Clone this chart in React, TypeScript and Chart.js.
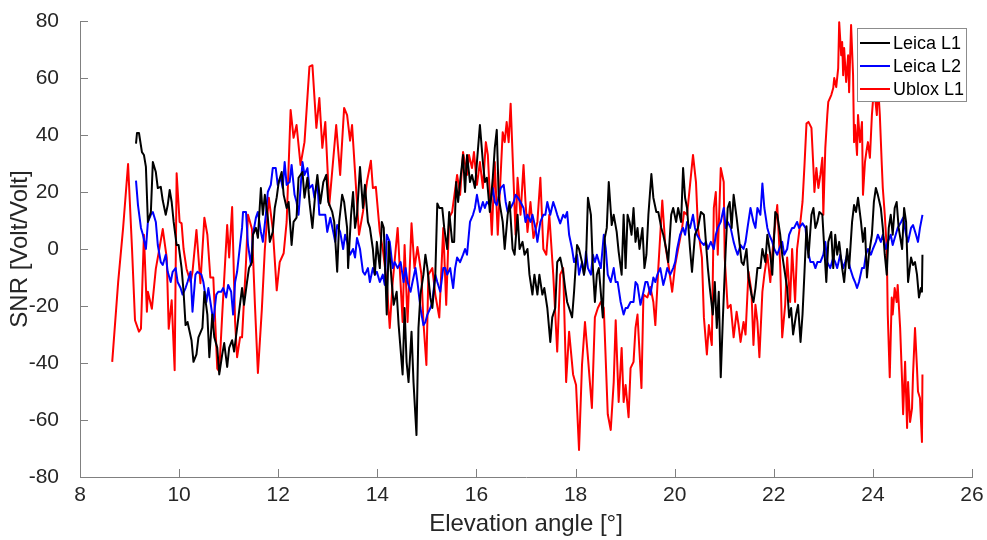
import React, { useEffect, useRef } from "react";
import { Chart, registerables } from "chart.js";

Chart.register(...registerables);

// [elevation angle (deg), SNR (Volt/Volt)]
const leicaL1: [number, number][] = [[9.13,37],[9.15,40.7],[9.19,40.7],[9.25,34],[9.29,33],[9.33,28.8],[9.37,9.5],[9.43,13],[9.47,30.5],[9.53,27],[9.57,21.4],[9.63,21.8],[9.67,17],[9.73,12],[9.77,15.4],[9.81,20.7],[9.85,16.5],[9.89,9.5],[9.95,1.4],[9.99,1.4],[10.05,-6.7],[10.09,-15],[10.13,-26.7],[10.17,-25.6],[10.25,-32],[10.29,-39.6],[10.35,-37],[10.39,-31],[10.47,-27.7],[10.51,-15],[10.57,-23],[10.61,-38],[10.67,-23],[10.71,-31],[10.77,-34.7],[10.81,-44],[10.87,-37],[10.91,-33],[10.97,-41.4],[11.01,-34.7],[11.07,-32],[11.11,-36],[11.17,-27.7],[11.21,-22],[11.27,-13.7],[11.31,-19.6],[11.37,-11.6],[11.41,-6.7],[11.47,-4.6],[11.49,5],[11.55,7.4],[11.59,3.9],[11.65,21.4],[11.69,12],[11.73,19],[11.79,11],[11.83,2.5],[11.89,6],[11.93,14.4],[11.97,18.2],[12.01,23.5],[12.07,27],[12.11,19],[12.17,14.4],[12.21,16.5],[12.27,1.4],[12.31,9.5],[12.37,11],[12.41,25],[12.49,27],[12.53,18],[12.59,25],[12.63,16.5],[12.69,7.4],[12.75,20],[12.79,26],[12.85,16],[12.91,23.5],[12.97,26],[13.01,16.5],[13.09,13],[13.13,9.5],[13.19,-8],[13.23,9.5],[13.29,19],[13.33,16.5],[13.39,7.4],[13.41,-6.7],[13.47,12],[13.51,20],[13.55,7.4],[13.59,12],[13.65,28.8],[13.71,14.4],[13.75,22.5],[13.81,9.5],[13.85,7.4],[13.91,0],[13.95,-9],[13.99,2.5],[14.05,-6.7],[14.09,9.5],[14.13,7.4],[14.19,-23],[14.23,2.5],[14.29,-11.6],[14.33,-19.6],[14.39,-15],[14.43,-26.7],[14.51,-44],[14.55,-20.7],[14.59,-39.6],[14.63,-46.7],[14.69,-29],[14.73,-46.7],[14.79,-65.3],[14.83,-27.7],[14.87,-16],[14.93,-9],[14.97,-2],[15.01,-6.7],[15.07,-17],[15.11,-20.7],[15.17,-9],[15.21,16],[15.25,14.4],[15.31,14.4],[15.35,7.4],[15.41,0],[15.45,13],[15.51,2.5],[15.55,2.5],[15.59,23.5],[15.63,16.5],[15.67,23.5],[15.73,33],[15.77,20],[15.81,33],[15.87,23.5],[15.91,26],[15.97,21.4],[16.01,30.5],[16.07,43.5],[16.13,30.5],[16.17,23.5],[16.21,25],[16.27,13],[16.33,25],[16.37,35.5],[16.41,41.8],[16.45,18],[16.53,9.5],[16.57,0],[16.63,12],[16.67,16.5],[16.73,0],[16.77,-2],[16.83,12],[16.87,0],[16.93,2.5],[16.97,-2],[17.03,0],[17.07,-9],[17.13,-16],[17.17,-9],[17.23,-16],[17.27,-9],[17.33,-16],[17.37,-13.7],[17.43,-20.7],[17.49,-32.6],[17.53,-24],[17.59,-20.7],[17.63,-4.6],[17.69,-3],[17.75,-8],[17.79,-13.7],[17.83,-18.6],[17.87,-20.7],[17.93,-24],[17.97,-15],[18.03,1.4],[18.07,0],[18.13,-4.6],[18.17,-9],[18.21,-4.6],[18.25,18],[18.31,12],[18.35,-6.7],[18.39,-18.6],[18.43,-9],[18.47,-6.7],[18.55,-24],[18.59,3.9],[18.63,7.4],[18.67,23.5],[18.73,8.4],[18.77,12],[18.83,6],[18.87,-1],[18.93,-9],[18.97,12],[19.01,-6.7],[19.05,12],[19.09,9.5],[19.13,5],[19.17,14.4],[19.21,2.5],[19.25,7.4],[19.29,0],[19.35,7.4],[19.39,-6.7],[19.43,-2],[19.47,12],[19.53,26.3],[19.57,18],[19.63,13],[19.67,13],[19.73,7.4],[19.77,5],[19.83,0],[19.87,-4.6],[19.93,12],[19.97,14.4],[20.03,9.5],[20.07,14.4],[20.13,9.5],[20.17,28.4],[20.21,18],[20.25,14.4],[20.31,0],[20.35,-8],[20.41,5],[20.47,7.4],[20.53,13],[20.59,12],[20.63,2.5],[20.67,-6.7],[20.71,-13.7],[20.77,-23],[20.81,-11.6],[20.85,-27.7],[20.89,-15],[20.93,-45],[20.97,-25.6],[21.03,0],[21.07,14.4],[21.11,16.5],[21.15,7.4],[21.19,19],[21.25,11],[21.29,5],[21.35,-4.6],[21.39,-5.6],[21.45,0],[21.49,-10],[21.55,-16],[21.59,-18.6],[21.63,-13.7],[21.67,-6.7],[21.73,-6.7],[21.77,0],[21.83,-4.6],[21.87,5],[21.93,-2],[21.97,-9],[22.03,13],[22.07,12],[22.13,5],[22.17,-2],[22.21,-6.7],[22.27,-13.7],[22.31,-24],[22.35,-20.7],[22.39,-30],[22.45,-23],[22.49,-19.6],[22.54,-32.6],[22.58,-23],[22.62,-8],[22.66,8],[22.70,-3],[22.76,12],[22.80,14.4],[22.84,7.4],[22.88,9.5],[22.92,13],[22.98,12],[23.02,0],[23.06,-11.6],[23.10,2.5],[23.16,6],[23.20,-6.7],[23.24,5],[23.28,-2],[23.32,2.5],[23.38,-6.7],[23.42,-11.6],[23.48,0],[23.52,-6.7],[23.58,9.5],[23.62,15.4],[23.66,13],[23.70,18],[23.76,9.5],[23.80,2.5],[23.84,7.4],[23.88,-10],[23.92,-2],[23.98,5],[24.02,16.5],[24.06,21.4],[24.10,19],[24.16,14.4],[24.20,7.4],[24.24,-2],[24.28,-9],[24.32,7.4],[24.36,12],[24.40,5],[24.44,14.4],[24.48,16.5],[24.52,7.4],[24.59,0],[24.63,14.4],[24.67,9.5],[24.71,-11.6],[24.77,-3],[24.81,-5.6],[24.85,-4.6],[24.89,-9],[24.93,-17],[24.97,-13.7],[24.99,-15],[25.0,-2]];

const leicaL2: [number, number][] = [[9.13,24],[9.17,15.4],[9.23,7.4],[9.27,5],[9.33,0],[9.37,9.5],[9.43,12],[9.47,13],[9.53,9.5],[9.57,1.4],[9.63,-4.6],[9.67,-5.6],[9.73,-2],[9.77,-8],[9.83,-11.6],[9.87,-8],[9.93,-6.7],[9.97,-11.6],[10.03,-13.7],[10.07,-16],[10.13,-13.7],[10.17,-11.6],[10.23,-8],[10.27,-22],[10.33,-9],[10.37,-8],[10.45,-9],[10.49,-11.6],[10.55,-18.6],[10.59,-13.7],[10.65,-20.7],[10.69,-25.6],[10.75,-16],[10.79,-15],[10.85,-15],[10.89,-13.7],[10.95,-17],[10.99,-12.6],[11.05,-15],[11.09,-23],[11.13,-11.6],[11.17,-8],[11.23,1.4],[11.27,7.4],[11.29,13],[11.35,13],[11.39,1.4],[11.45,-5.6],[11.49,5],[11.55,11],[11.59,13],[11.65,6],[11.69,2.5],[11.75,12],[11.79,20],[11.85,22.5],[11.89,28.4],[11.95,28.4],[11.99,22.5],[12.05,25],[12.09,21.4],[12.13,30.5],[12.17,22.5],[12.23,23.5],[12.27,29.5],[12.33,19],[12.37,16.5],[12.41,12],[12.49,30.5],[12.53,26],[12.59,28.4],[12.63,21.4],[12.69,22.5],[12.73,18],[12.79,23.5],[12.83,12],[12.89,12],[12.95,12],[12.99,6],[13.05,11],[13.11,6],[13.15,2.5],[13.19,8.4],[13.25,6],[13.31,0],[13.35,5],[13.39,2.5],[13.45,-2],[13.51,0],[13.55,-3],[13.59,3.9],[13.65,0],[13.71,-8],[13.75,-9],[13.81,-6.7],[13.85,-11.6],[13.91,-6.7],[13.95,-9],[13.99,-8],[14.05,-11.6],[14.11,-9],[14.15,-12.6],[14.19,5],[14.25,2.5],[14.31,-6.7],[14.35,-4.6],[14.41,-6.7],[14.47,-4.6],[14.53,-11.6],[14.57,-6.7],[14.61,-11.6],[14.67,-15],[14.71,-11.6],[14.77,-6.7],[14.81,-11.6],[14.87,-20.7],[14.93,-26.7],[14.97,-25.6],[15.01,-23],[15.07,-20.7],[15.11,-18.6],[15.17,-9],[15.21,-11.6],[15.27,-15],[15.33,-6.7],[15.37,-6.7],[15.41,-9],[15.47,-6.7],[15.53,-13.7],[15.57,-6.7],[15.61,-3],[15.67,-4.6],[15.73,-2],[15.77,0],[15.81,-2],[15.87,9.5],[15.93,12],[15.97,14.4],[16.01,19],[16.07,13],[16.13,16.5],[16.17,14.4],[16.21,16.5],[16.27,15.4],[16.33,21.4],[16.37,16.5],[16.41,15.4],[16.49,21.4],[16.55,22.5],[16.59,16.5],[16.63,13],[16.69,14.4],[16.75,16.5],[16.79,19],[16.83,18.2],[16.89,16.5],[16.95,14.4],[16.99,9.5],[17.03,12],[17.09,9.5],[17.13,12],[17.19,7.4],[17.23,2.5],[17.29,9.5],[17.35,12],[17.39,12],[17.43,16.5],[17.49,12],[17.55,16.5],[17.59,14.4],[17.63,12],[17.69,9],[17.75,12],[17.79,11],[17.83,13],[17.87,5],[17.93,0],[17.97,-4.6],[18.03,-2],[18.07,-9],[18.13,-4.6],[18.17,-9],[18.21,-1],[18.25,-6.7],[18.31,-9],[18.35,-2],[18.39,-4.6],[18.43,-2],[18.51,-6.7],[18.57,5],[18.61,0],[18.65,-9],[18.71,-11.6],[18.77,-6.7],[18.81,-11.6],[18.85,-11.6],[18.91,-18.6],[18.97,-23],[19.01,-20.7],[19.05,-20.7],[19.11,-18.6],[19.17,-18.6],[19.21,-11.6],[19.25,-12.6],[19.31,-19.6],[19.37,-15],[19.41,-11.6],[19.45,-11.6],[19.51,-16],[19.57,-10],[19.61,-11.6],[19.65,-9],[19.71,-6.7],[19.77,-12.6],[19.81,-10],[19.85,-6.7],[19.91,-9],[19.97,-6.7],[20.01,-4.6],[20.05,0],[20.11,5],[20.17,7.4],[20.21,5],[20.25,9.5],[20.31,7.4],[20.37,12],[20.41,7.4],[20.45,5],[20.53,2.5],[20.59,1.4],[20.63,2.5],[20.67,0],[20.73,2.5],[20.79,0],[20.83,5],[20.87,7.4],[20.93,9.5],[20.99,14.4],[21.03,7.4],[21.07,9.5],[21.13,7.4],[21.19,2.5],[21.23,0],[21.27,-2],[21.33,1.4],[21.39,0],[21.43,2.5],[21.47,7.4],[21.53,14.4],[21.59,9.5],[21.63,7.4],[21.67,14.4],[21.73,12],[21.77,23],[21.81,14.4],[21.87,7.4],[21.91,5],[21.97,2.5],[22.01,0],[22.07,-2],[22.11,0],[22.17,2.5],[22.21,-2],[22.27,0],[22.31,5],[22.37,7.4],[22.41,7.4],[22.47,9.5],[22.51,7.4],[22.58,9],[22.64,7.4],[22.68,0],[22.74,-4.6],[22.80,-4.6],[22.84,-6.7],[22.88,-4.6],[22.94,-4.6],[23.00,-2],[23.04,2.5],[23.08,-4.6],[23.14,-6.7],[23.20,-3],[23.24,-4.6],[23.28,-6.7],[23.34,-2],[23.40,-6.7],[23.44,-4.6],[23.48,-2],[23.54,-6.7],[23.60,-10],[23.64,-11.6],[23.68,-13.7],[23.72,-11.6],[23.78,-6.7],[23.82,-6.7],[23.86,-2],[23.90,0],[23.96,-2],[24.00,0],[24.06,2.5],[24.10,5],[24.16,2.5],[24.20,5],[24.26,0],[24.30,2.5],[24.36,5],[24.40,1.4],[24.46,5],[24.50,7.4],[24.57,9.5],[24.61,11],[24.67,5],[24.71,2.5],[24.77,7.4],[24.81,8.4],[24.87,5],[24.91,2.5],[24.95,7.4],[24.99,11],[25.0,12]];

const ubloxL1: [number, number][] = [[8.65,-39.6],[8.77,-11.6],[8.87,7.4],[8.97,29.8],[9.05,0],[9.11,-25],[9.19,-29],[9.23,-28],[9.29,5],[9.35,-22],[9.37,-15],[9.45,-21],[9.53,-7],[9.59,-1],[9.67,7],[9.75,-3],[9.79,-28],[9.85,-18],[9.91,-42.5],[9.95,26.6],[10.01,9.5],[10.05,9],[10.09,0],[10.15,-7],[10.23,-11.6],[10.27,-8],[10.35,6.7],[10.43,-12],[10.51,11],[10.57,5],[10.63,-10],[10.69,-10],[10.77,-42],[10.81,-43],[10.87,-23],[10.97,8.4],[11.01,-3],[11.07,14.7],[11.13,-25.6],[11.17,-38],[11.23,-31],[11.27,-31],[11.35,-4.6],[11.39,12],[11.47,7],[11.53,-19.6],[11.59,-43.5],[11.67,-21],[11.73,0],[11.81,18],[11.89,7],[11.97,-14.5],[12.03,-4.6],[12.11,-1.5],[12.17,9.5],[12.25,48.8],[12.31,39],[12.37,43.5],[12.45,29.5],[12.53,37.5],[12.63,64],[12.69,64.5],[12.77,42.5],[12.83,53],[12.89,35.5],[12.95,44.6],[13.03,15.4],[13.17,43.5],[13.25,26],[13.33,49.5],[13.39,47],[13.45,38],[13.49,43.5],[13.55,27],[13.63,5],[13.71,13],[13.79,23.5],[13.87,31],[13.91,21.4],[13.97,21.8],[14.05,6],[14.11,0],[14.19,-11.6],[14.25,-27.7],[14.31,-11.6],[14.41,7.4],[14.51,-25.6],[14.55,1.4],[14.61,-25.6],[14.69,9],[14.75,-6.7],[14.81,0.7],[14.89,-9],[14.93,-25.6],[14.99,-40.7],[15.03,-9],[15.11,-6.7],[15.17,-16],[15.25,-24],[15.33,7.4],[15.39,-19.6],[15.45,11],[15.51,13],[15.61,26],[15.67,19],[15.73,34],[15.81,26],[15.85,33],[15.91,28.4],[15.95,34],[16.01,22.5],[16.07,30.5],[16.13,21.4],[16.19,37.5],[16.23,33],[16.31,5],[16.37,30.5],[16.43,5],[16.53,41],[16.57,37.5],[16.61,44.6],[16.65,37.5],[16.69,51],[16.75,23.5],[16.79,5],[16.83,25],[16.89,12],[16.95,29.5],[16.99,16.5],[17.03,6],[17.09,16.5],[17.15,3.9],[17.23,9.5],[17.29,25],[17.35,0],[17.41,-2],[17.47,12],[17.55,-9],[17.63,-36],[17.69,-9],[17.75,-6.7],[17.81,-46.7],[17.87,-29],[17.95,-44],[18.01,-47.7],[18.07,-70.5],[18.13,-40.7],[18.19,-25.6],[18.25,-38],[18.33,-55.8],[18.39,-24],[18.45,-20.7],[18.51,-18.6],[18.57,-20.7],[18.65,-58],[18.71,-63.5],[18.77,-46.7],[18.81,-25],[18.87,-53.7],[18.93,-34.7],[18.97,-53.7],[19.01,-47.7],[19.07,-59],[19.11,-41.8],[19.17,-39.6],[19.21,-27.7],[19.25,-23],[19.33,-48.8],[19.37,-16],[19.45,-17],[19.51,-13.3],[19.57,-18.6],[19.61,-26.7],[19.67,-6.7],[19.75,17],[19.81,1.4],[19.87,-5],[19.95,-15],[20.01,-5.6],[20.07,0],[20.15,7.4],[20.19,13],[20.25,12],[20.31,22.5],[20.37,33],[20.43,23.5],[20.47,7.4],[20.55,-3],[20.59,-24],[20.65,-37],[20.69,-26.7],[20.75,-33.7],[20.79,14.4],[20.83,20],[20.87,-2],[20.93,28.4],[20.99,23.5],[21.01,-3],[21.07,-20.7],[21.13,-19.6],[21.19,-31],[21.25,-22],[21.29,-26.7],[21.33,-32.6],[21.39,-25.6],[21.43,-30],[21.49,-8],[21.55,-15],[21.59,-33.7],[21.63,-19.6],[21.67,-25.6],[21.71,-38],[21.77,-15],[21.81,-9],[21.87,-2],[21.93,-11.6],[21.99,2.5],[22.07,15.4],[22.13,-5.6],[22.17,-31],[22.23,-19.6],[22.27,-3],[22.33,-18.6],[22.37,0],[22.43,-18.6],[22.47,0],[22.54,10],[22.58,16.5],[22.62,29.5],[22.66,44],[22.70,44.6],[22.76,42.5],[22.80,28.4],[22.82,20],[22.86,28.4],[22.90,21.4],[22.94,26],[22.98,32],[23.00,12],[23.04,35.5],[23.08,47],[23.10,51.6],[23.16,54],[23.20,56.5],[23.22,60],[23.26,56.8],[23.30,63.5],[23.32,79.6],[23.36,68],[23.38,72.6],[23.40,61],[23.42,70.5],[23.46,58.6],[23.50,68],[23.52,55],[23.56,78.6],[23.60,61],[23.62,37.5],[23.64,43.5],[23.68,33],[23.70,47],[23.74,37.5],[23.78,44.6],[23.80,19],[23.84,30.5],[23.88,35.5],[23.90,37.5],[23.94,32],[23.98,47],[24.00,51.6],[24.04,54],[24.08,47],[24.10,58.6],[24.14,47],[24.18,29.5],[24.20,21.4],[24.24,12],[24.28,0],[24.30,-23],[24.34,-45],[24.38,-17],[24.40,-23],[24.44,-13.7],[24.48,-18.6],[24.50,-12.6],[24.55,-27.7],[24.59,-46.7],[24.61,-58],[24.65,-39.6],[24.69,-62.8],[24.71,-46.7],[24.75,-60.7],[24.79,-55.8],[24.81,-44],[24.85,-27.7],[24.89,-41.8],[24.91,-50],[24.95,-52.3],[24.99,-67.7],[25.0,-44]];

const seriesLabels = ["Leica L1", "Leica L2", "Ublox L1"];
const seriesColors = ["#000000", "#0000ff", "#ff0000"];
const xRange = [8, 26];
const yRange = [-80, 80];
const xStep = 2;
const yStep = 20;

const FONT = '"Liberation Sans", Arial, Helvetica, sans-serif';
const TEXT = "#262626";
const AXIS = "#808080";

const innerTicks = {
  id: "innerTicks",
  beforeDatasetsDraw(chart: any) {
    const { ctx, chartArea, scales } = chart;
    ctx.save();
    ctx.strokeStyle = AXIS;
    ctx.lineWidth = 1;
    ctx.beginPath();
    scales.x.ticks.forEach((t: any) => {
      const px = Math.round(scales.x.getPixelForValue(t.value)) + 0.5;
      ctx.moveTo(px, chartArea.bottom);
      ctx.lineTo(px, chartArea.bottom - 8);
    });
    scales.y.ticks.forEach((t: any) => {
      const py = Math.round(scales.y.getPixelForValue(t.value)) + 0.5;
      ctx.moveTo(chartArea.left, py);
      ctx.lineTo(chartArea.left + 8, py);
    });
    ctx.stroke();
    ctx.restore();
  },
};

const boxLegend = {
  id: "boxLegend",
  afterDatasetsDraw(chart: any) {
    const { ctx, chartArea } = chart;
    const w = 109;
    const h = 73;
    const x0 = Math.round(chartArea.right - 6 - w);
    const y0 = Math.round(chartArea.top + 7);
    ctx.save();
    ctx.fillStyle = "#ffffff";
    ctx.fillRect(x0, y0, w, h);
    ctx.strokeStyle = "#8c8c8c";
    ctx.lineWidth = 1;
    ctx.strokeRect(x0 + 0.5, y0 + 0.5, w, h);
    chart.data.datasets.forEach((ds: any, i: number) => {
      const y = y0 + 15 + i * 23;
      ctx.strokeStyle = ds.borderColor;
      ctx.lineWidth = 2;
      ctx.beginPath();
      ctx.moveTo(x0 + 3, y);
      ctx.lineTo(x0 + 33, y);
      ctx.stroke();
      ctx.fillStyle = "#000000";
      ctx.font = `18px ${FONT}`;
      ctx.textBaseline = "middle";
      ctx.textAlign = "left";
      ctx.fillText(ds.label, x0 + 36, y + 1);
    });
    ctx.restore();
  },
};

export default function App() {
  const ref = useRef<HTMLCanvasElement | null>(null);

  useEffect(() => {
    if (!ref.current) return;
    const series = [leicaL1, leicaL2, ubloxL1];
    const chart = new Chart(ref.current, {
      type: "line",
      data: {
        datasets: series.map((s, i) => ({
          label: seriesLabels[i],
          data: s.map(([x, y]) => ({ x, y })),
          borderColor: seriesColors[i],
          backgroundColor: seriesColors[i],
          borderWidth: 2,
          pointRadius: 0,
          tension: 0,
          fill: false,
          borderJoinStyle: "round" as const,
        })),
      },
      options: {
        animation: false,
        responsive: false,
        events: [],
        layout: { padding: { top: 21, right: 15, left: 0, bottom: 0 } },
        plugins: { legend: { display: false }, tooltip: { enabled: false } },
        scales: {
          x: {
            type: "linear",
            min: xRange[0],
            max: xRange[1],
            afterFit: (s: any) => {
              s.height = 63;
              s.paddingLeft = 0;
              s.paddingRight = 0;
              s.paddingTop = 0;
              s.paddingBottom = 0;
            },
            ticks: {
              stepSize: xStep,
              autoSkip: false,
              maxRotation: 0,
              padding: 6,
              color: TEXT,
              font: { family: FONT, size: 21 },
            },
            grid: { display: false, drawTicks: false },
            border: { display: true, color: AXIS, width: 1 },
            title: {
              display: true,
              text: "Elevation angle [°]",
              color: TEXT,
              font: { family: FONT, size: 24 },
              padding: { top: 0, bottom: 1 },
            },
          },
          y: {
            type: "linear",
            min: yRange[0],
            max: yRange[1],
            afterFit: (s: any) => {
              s.width = 80;
              s.paddingLeft = 0;
              s.paddingRight = 0;
              s.paddingTop = 0;
              s.paddingBottom = 0;
            },
            ticks: {
              stepSize: yStep,
              autoSkip: false,
              padding: 21,
              color: TEXT,
              font: { family: FONT, size: 21 },
            },
            grid: { display: false, drawTicks: false },
            border: { display: true, color: AXIS, width: 1 },
            title: {
              display: true,
              text: "SNR [Volt/Volt]",
              color: TEXT,
              font: { family: FONT, size: 24 },
              padding: { top: 6, bottom: 0 },
            },
          },
        },
      },
      plugins: [innerTicks, boxLegend],
    });
    return () => chart.destroy();
  }, []);

  return (
    <div style={{ position: "absolute", left: 0, top: 0, width: 987, height: 540, background: "#fff" }}>
      <canvas ref={ref} width={987} height={540} style={{ width: 987, height: 540, display: "block" }} />
    </div>
  );
}
